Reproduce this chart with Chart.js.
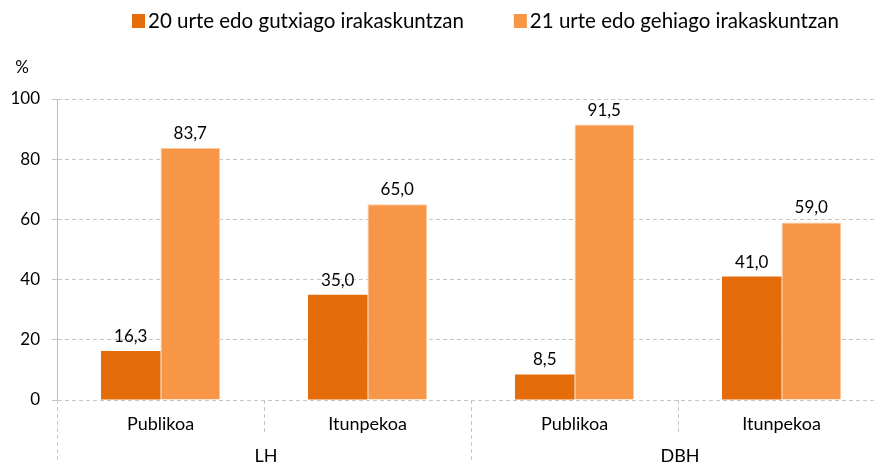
<!DOCTYPE html>
<html lang="eu">
<head>
    <meta charset="UTF-8">
    <title>Irakaskuntza urteak</title>
    <script src="https://cdn.jsdelivr.net/npm/chart.js"></script>
    <style>
        html, body {
            margin: 0;
            padding: 0;
            background: #ffffff;
            overflow: hidden;
        }
        #wrap {
            width: 890px;
            height: 463px;
        }
    </style>
</head>
<body>
    <div id="wrap">
        <canvas id="chart" width="890" height="463"></canvas>
    </div>

    <script>
        // datuak
        const categories = ['Publikoa', 'Itunpekoa', 'Publikoa', 'Itunpekoa'];
        const groups = ['LH', 'DBH'];
        const seriesNames = ['20 urte edo gutxiago irakaskuntzan', '21 urte edo gehiago irakaskuntzan'];
        const young = [16.3, 35.0, 8.5, 41.0];
        const senior = [83.7, 65.0, 91.5, 59.0];
        const yTicks = [0, 20, 40, 60, 80, 100];

        const colors = ['#E46C0A', '#F79646'];
        const FONT = 'Lato, "Open Sans", sans-serif';
        const gridColor = '#c6c6c6';

        const fmt = v => v.toFixed(1).replace('.', ',');

        const extras = {
            id: 'extras',
            afterDatasetsDraw(chart) {
                const ctx = chart.ctx;
                ctx.save();
                ctx.fillStyle = '#000';
                ctx.font = '17px ' + FONT;
                ctx.textAlign = 'center';
                ctx.textBaseline = 'bottom';
                chart.data.datasets.forEach((ds, di) => {
                    chart.getDatasetMeta(di).data.forEach((bar, i) => {
                        ctx.fillText(fmt(ds.data[i]), bar.x, bar.y - 6);
                    });
                });
                ctx.restore();
            },
            afterDraw(chart) {
                const ctx = chart.ctx;
                const x = chart.scales.x;
                const area = chart.chartArea;
                const half = (x.getPixelForValue(1) - x.getPixelForValue(0)) / 2;

                ctx.save();
                // separadoreak
                ctx.strokeStyle = gridColor;
                ctx.lineWidth = 1;
                ctx.setLineDash([4, 3]);
                for (let i = 0; i <= categories.length; i++) {
                    const px = Math.round(x.getPixelForValue(i) - half) + 0.5;
                    const outer = i % 2 === 0;
                    ctx.beginPath();
                    ctx.moveTo(px, area.bottom);
                    ctx.lineTo(px, outer ? chart.height : area.bottom + 35);
                    ctx.stroke();
                }
                ctx.setLineDash([]);

                // talde etiketak
                ctx.fillStyle = '#000';
                ctx.font = '18px ' + FONT;
                ctx.textAlign = 'center';
                ctx.textBaseline = 'middle';
                groups.forEach((g, gi) => {
                    const cx = (x.getPixelForValue(gi * 2) + x.getPixelForValue(gi * 2 + 1)) / 2;
                    ctx.fillText(g, cx + 2, 456);
                });

                // % etiketa
                ctx.font = '17px ' + FONT;
                ctx.fillText('%', 22, 68);

                // legenda
                ctx.font = '20.5px ' + FONT;
                ctx.textAlign = 'left';
                let lx = 132;
                seriesNames.forEach((name, i) => {
                    ctx.fillStyle = colors[i];
                    ctx.fillRect(lx, 14, 13, 14);
                    ctx.fillStyle = '#000';
                    ctx.fillText(name, lx + 16, 21);
                    lx += 16 + ctx.measureText(name).width + 50;
                });
                ctx.restore();
            }
        };

        new Chart(document.getElementById('chart'), {
            type: 'bar',
            data: {
                labels: categories,
                datasets: [
                    {
                        label: seriesNames[0],
                        data: young,
                        backgroundColor: colors[0],
                        borderWidth: 0
                    },
                    {
                        label: seriesNames[1],
                        data: senior,
                        backgroundColor: colors[1],
                        borderColor: '#fbc9a0',
                        borderWidth: 1
                    }
                ]
            },
            options: {
                responsive: false,
                animation: false,
                layout: { padding: { top: 99, right: 5, left: 0, bottom: 0 } },
                datasets: {
                    bar: { categoryPercentage: 0.575, barPercentage: 1 }
                },
                plugins: {
                    legend: { display: false },
                    tooltip: { enabled: false }
                },
                scales: {
                    x: {
                        grid: { display: false, drawTicks: false },
                        border: { display: false },
                        ticks: {
                            color: '#000',
                            font: { family: FONT, size: 18 },
                            padding: 13,
                            maxRotation: 0
                        },
                        afterFit(scale) { scale.height = 63; }
                    },
                    y: {
                        min: 0,
                        max: 100,
                        afterBuildTicks(scale) {
                            scale.ticks = yTicks.map(v => ({ value: v }));
                        },
                        grid: {
                            color: gridColor,
                            tickLength: 5,
                            tickColor: gridColor
                        },
                        border: { display: true, color: '#bfbfbf', dash: [4, 3] },
                        ticks: {
                            color: '#000',
                            font: { family: FONT, size: 17 },
                            padding: 12
                        },
                        afterFit(scale) { scale.width = 57; }
                    }
                }
            },
            plugins: [extras]
        });
    </script>
</body>
</html>
